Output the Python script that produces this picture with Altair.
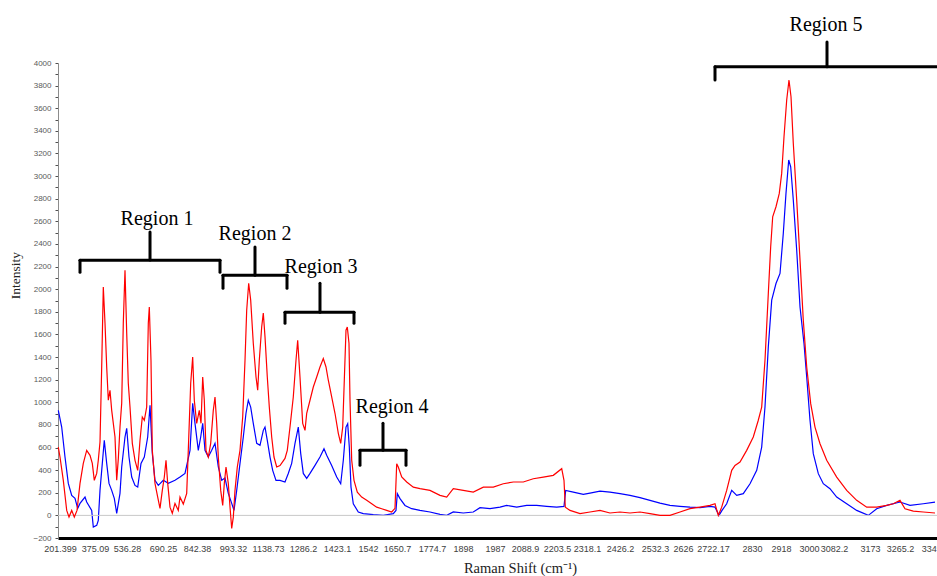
import altair as alt
import pandas as pd

# ---------------- data ----------------
tick_labels = [201.399, 375.09, 536.28, 690.25, 842.38, 993.32, 1138.73, 1286.2, 1423.1,
               1542, 1650.7, 1774.7, 1898, 1987, 2088.9, 2203.5, 2318.1, 2426.2, 2532.3,
               2626, 2722.17, 2830, 2918, 3000, 3082.2, 3173, 3265.2, 3349.2]

red_x = [193.0, 201.4, 217.8, 234.7, 246.1, 259.5, 272.4, 285.8, 300.7, 317.0, 333.9, 350.3,
         361.7, 371.6, 383.7, 391.7, 400.3, 408.8, 416.9, 425.5, 434.0, 442.1, 450.6, 459.2,
         475.8, 484.4, 492.5, 501.0, 509.6, 517.6, 526.2, 534.8, 541.8, 549.1, 559.0, 570.5,
         582.1, 591.9, 601.7, 610.3, 620.5, 627.4, 631.7, 638.9, 644.5, 656.0, 667.6, 677.4,
         687.3, 696.1, 703.7, 711.3, 721.6, 731.9, 743.9, 758.7, 766.3, 781.1, 796.3, 803.4,
         814.2, 823.1, 830.3, 841.0, 852.0, 859.2, 866.3, 873.0, 880.1, 889.8, 899.8, 910.7,
         917.9, 925.0, 931.7, 941.8, 950.2, 956.9, 964.0, 973.6, 980.8, 987.9, 994.6, 1001.6,
         1011.2, 1022.4, 1033.6, 1043.2, 1050.2, 1058.5, 1066.8, 1077.6, 1088.9, 1095.9,
         1102.6, 1112.5, 1119.2, 1126.3, 1135.8, 1144.2, 1154.3, 1164.0, 1175.4, 1189.3,
         1210.3, 1220.0, 1231.4, 1245.3, 1256.7, 1263.8, 1273.5, 1284.9, 1294.3, 1301.1,
         1314.4, 1327.7, 1341.4, 1354.6, 1367.9, 1378.8, 1388.1, 1401.7, 1415.0, 1428.1,
         1437.3, 1445.0, 1451.1, 1457.6, 1462.6, 1469.1, 1473.0, 1479.5, 1488.3, 1501.0,
         1517.8, 1537.0, 1555.9, 1574.6, 1593.3, 1612.1, 1630.8, 1643.2, 1649.6, 1655.3,
         1667.4, 1685.1, 1708.5, 1732.2, 1767.6, 1806.5, 1833.2, 1859.4, 1898.8, 1926.6,
         1954.5, 1982.3, 2015.2, 2049.2, 2083.1, 2118.6, 2154.4, 2190.2, 2221.5, 2230.2,
         2235.2, 2253.2, 2291.4, 2327.9, 2360.7, 2393.4, 2426.2, 2456.5, 2486.8, 2517.1,
         2549.0, 2582.5, 2616.0, 2648.4, 2680.5, 2712.6, 2727.7, 2736.8, 2746.2, 2760.0,
         2773.9, 2783.0, 2796.8, 2815.3, 2833.9, 2849.1, 2859.4, 2869.4, 2879.5, 2886.7,
         2892.8, 2902.8, 2912.8, 2920.0, 2926.8, 2934.7, 2941.4, 2947.3, 2954.0, 2964.0,
         2973.7, 2983.3, 2993.3, 3005.6, 3019.7, 3036.2, 3058.2, 3089.0, 3114.2, 3139.4,
         3164.7, 3193.6, 3224.3, 3244.6, 3265.2, 3277.2, 3297.1, 3321.1, 3349.2]
red_y = [604, 516, 310, 44, -15, 44, -15, 44, 283, 460, 575, 531,
         460, 310, 371, 487, 649, 1312, 2020, 1699, 1312, 1018, 1106, 929,
         693, 310, 500, 781, 991, 1699, 2168, 1611, 1168, 958, 637, 487,
         398, 664, 870, 841, 958, 1699, 1843, 1372, 575, 283, 162, 62,
         221, 339, 487, 283, 73, 18, 106, 44, 162, 100, 195, 575,
         1168, 1401, 1018, 814, 929, 814, 1224, 1018, 575, 516, 637, 929,
         1047, 814, 516, 221, 88, 283, 428, 283, 73, -115, -15, 221,
         428, 575, 870, 1372, 1814, 2053, 1903, 1522, 1224, 1106,
         1372, 1666, 1788, 1578, 1224, 958, 693, 516, 428, 440,
         504, 575, 781, 1047, 1372, 1549, 1224, 814, 752, 903,
         1018, 1135, 1224, 1312, 1386, 1312, 1195, 1047, 903, 726,
         637, 781, 1195, 1637, 1666, 1522, 1018, 487, 310, 206,
         162, 133, 103, 73, 59, 44, 30, 62, 457, 428,
         339, 295, 250, 236, 221, 177, 162, 236, 221, 206,
         250, 250, 280, 295, 295, 324, 339, 354, 413, 310,
         73, 44, 15, 30, 44, 21, 30, 21, 30, 15,
         0, 0, 30, 59, 73, 88, 103, 0, 73, 221,
         398, 442, 472, 575, 693, 841, 958, 1372, 1962, 2375,
         2640, 2729, 2847, 3024, 3348, 3673, 3850, 3702, 3290, 2788,
         2257, 1726, 1312, 988, 781, 634, 487, 339, 221, 133,
         73, 73, 88, 103, 133, 59, 38, 30, 21]

blue_x = [193.0, 209.8, 226.2, 242.6, 259.5, 275.8, 289.2, 300.7, 325.5, 333.9, 358.7, 366.7,
          383.7, 391.7, 400.3, 411.9, 421.9, 434.0, 445.6, 459.2, 472.3, 484.4, 501.0, 509.6,
          526.2, 534.8, 544.8, 556.4, 570.5, 582.1, 596.2, 610.3, 624.8, 634.7, 644.5, 656.0,
          670.2, 691.6, 714.0, 743.9, 766.3, 788.7, 811.1, 823.1, 833.4, 847.8, 857.9, 866.3,
          875.9, 889.8, 904.0, 917.9, 931.7, 946.0, 959.8, 973.6, 987.9, 997.5, 1008.7, 1022.4,
          1036.1, 1047.3, 1056.9, 1066.8, 1077.6, 1091.8, 1105.5, 1119.2, 1126.3, 1135.8,
          1147.2, 1158.5, 1172.4, 1189.3, 1210.3, 1224.2, 1238.5, 1252.5, 1266.4, 1276.5,
          1287.4, 1301.1, 1314.4, 1334.5, 1354.6, 1370.7, 1381.6, 1401.7, 1421.9, 1437.3,
          1447.3, 1457.6, 1464.1, 1470.3, 1476.8, 1485.6, 1504.8, 1524.0, 1561.9, 1599.3,
          1636.8, 1646.9, 1651.8, 1661.3, 1679.0, 1702.8, 1732.2, 1767.6, 1806.5, 1833.2,
          1859.4, 1898.8, 1926.6, 1945.3, 1973.1, 2004.0, 2026.7, 2060.7, 2095.0, 2130.8,
          2166.6, 2202.4, 2230.2, 2236.7, 2265.8, 2304.0, 2327.9, 2360.7, 2393.4, 2426.2,
          2456.5, 2486.8, 2517.1, 2549.0, 2582.5, 2616.0, 2648.4, 2680.5, 2712.6, 2727.7,
          2738.8, 2747.1, 2760.0, 2773.9, 2787.7, 2805.9, 2824.5, 2844.3, 2859.4, 2869.4,
          2879.5, 2889.8, 2902.8, 2915.0, 2924.7, 2932.6, 2940.6, 2946.4, 2954.0, 2964.0,
          2973.7, 2985.4, 2993.3, 3003.3, 3014.1, 3030.6, 3047.0, 3069.0, 3089.0, 3114.2,
          3139.4, 3168.7, 3193.6, 3224.3, 3265.2, 3289.2, 3321.1, 3349.2]
blue_y = [929, 781, 516, 283, 177, 150, 62, 106, 162, 118, 44, -103,
          -88, -44, 221, 460, 664, 460, 283, 221, 150, 18, 195, 428,
          693, 770, 516, 339, 265, 250, 460, 516, 693, 973, 548, 310,
          265, 310, 283, 310, 339, 371, 575, 991, 814, 575, 693, 814,
          575, 516, 575, 637, 428, 310, 330, 195, 106, 44, 221, 460,
          693, 903, 1018, 958, 814, 637, 620, 752, 781, 664,
          516, 398, 310, 310, 295, 371, 460, 637, 781, 548,
          371, 327, 371, 442, 516, 590, 531, 442, 339, 280,
          487, 781, 811, 604, 250, 103, 30, 15, 6, 0,
          15, 44, 192, 148, 88, 59, 44, 30, 9, 0,
          30, 21, 30, 68, 59, 73, 88, 73, 88, 88,
          80, 73, 80, 221, 206, 186, 197, 215, 206, 192,
          177, 157, 133, 109, 88, 80, 73, 68, 80, 73,
          0, 44, 103, 221, 177, 192, 280, 398, 604, 958,
          1490, 1903, 2050, 2139, 2493, 2847, 3142, 3082, 2788, 2345,
          1843, 1519, 1224, 841, 546, 369, 280, 236, 162, 103,
          44, 0, 59, 88, 118, 88, 103, 118]

region_names = ["Region 1", "Region 2", "Region 3", "Region 4", "Region 5"]
region_left = [300.7, 951.4, 1210.4, 1511.3, 2727.7]
region_right = [938.8, 1218.8, 1488.3, 1682.6, 3373.0]
region_bar = [2257, 2124, 1797, 575, 3967]
region_hook = [2150, 2009, 1699, 443, 3850]
region_stem_x = [634.7, 1084.7, 1354.6, 1598.2, 3059.2]
region_stem_top = [2505, 2372, 2053, 814, 4186]
region_text_x = [664.6, 1084.7, 1358.7, 1632.0, 3055.9]
region_text_y = [2567, 2434, 2142, 903, 4283]

# ---------------- layout / scales ----------------
W, H = 879, 475
tick_px = [2, 37, 69, 105, 139, 175, 210, 245, 279, 310, 339, 374, 405, 437, 467, 499,
           529, 562, 597, 625, 655, 694, 723, 751, 776, 812, 842, 877]
x_scale = alt.Scale(domain=[191.5] + tick_labels + [3354.0],
                    range=[0] + tick_px + [W], nice=False, zero=False)
y_scale = alt.Scale(domain=[-200, 4000], nice=False, zero=False)

sans = "Liberation Sans Narrow, Liberation Sans, Arial"
serif = "Liberation Serif, Times New Roman, serif"

x_axis = alt.Axis(values=tick_labels, labelExpr="format(datum.value, '.12~g')",
                  ticks=False, labelFlush=False, labelOverlap=False, grid=False,
                  labelFont=sans, labelFontSize=9, labelColor="#404040", labelPadding=6,
                  domainColor="black", domainWidth=3,
                  title="Raman Shift (cm⁻¹)", titleFont=serif, titleFontSize=14.5,
                  titleFontWeight="normal", titleColor="#222", titleX=462, titleY=34,
                  titleBaseline="alphabetic", titleAlign="center")
y_axis = alt.Axis(values=list(range(-200, 4001, 100)),
                  labelExpr="datum.value % 200 == 0 ? format(datum.value, 'd') : ''",
                  grid=False, tickSize=3, tickColor="#505050", domainColor="#8c8c8c",
                  labelFont=sans, labelFontSize=8, labelColor="#5a5a5a", labelPadding=4,
                  title="Intensity", titleFont=serif, titleFontSize=13.5,
                  titleFontWeight="normal", titleColor="#222", titleAngle=270,
                  titleX=-43, titleY=212, titleAlign="center", titleBaseline="middle")


def X(field):
    return alt.X(field, type="quantitative", scale=x_scale, axis=x_axis)


def Y(field):
    return alt.Y(field, type="quantitative", scale=y_scale, axis=y_axis)


red_df = pd.DataFrame({"shift": red_x, "intensity": red_y})
blue_df = pd.DataFrame({"shift": blue_x, "intensity": blue_y})
reg_df = pd.DataFrame({"name": region_names, "left": region_left, "right": region_right,
                       "bar": region_bar, "hook": region_hook, "sx": region_stem_x,
                       "stop": region_stem_top, "tx": region_text_x, "ty": region_text_y})

blue_line = alt.Chart(blue_df).mark_line(color="#0000FF", strokeWidth=1.2).encode(
    x=X("shift"), y=Y("intensity"))

red_line = alt.Chart(red_df).mark_line(color="#FF0000", strokeWidth=1.2).encode(
    x=X("shift"), y=Y("intensity"))

zero_line = alt.Chart(pd.DataFrame({"z": [0]})).mark_rule(color="#c8c8c8", strokeWidth=1).encode(
    y=Y("z"))

base = alt.Chart(reg_df)
rk = dict(color="black", strokeWidth=3, strokeCap="round")
bar = base.mark_rule(**rk).encode(x=X("left"), x2="right:Q", y=Y("bar"))
hook_l = base.mark_rule(**rk).encode(x=X("left"), y=Y("bar"), y2="hook:Q")
hook_r = base.mark_rule(**rk).encode(x=X("right"), y=Y("bar"), y2="hook:Q")
stem = base.mark_rule(**rk).encode(x=X("sx"), y=Y("stop"), y2="bar:Q")
labels = base.mark_text(font=serif, fontSize=20, color="black", align="center",
                        baseline="alphabetic").encode(
    x=X("tx"), y=Y("ty"), text="name:N")

chart = alt.layer(blue_line, zero_line, red_line, bar, hook_l, hook_r, stem, labels).properties(
    width=W, height=H,
    autosize=alt.AutoSizeParams(type="none"),
    padding={"left": 58, "top": 63, "right": 0, "bottom": 38},
    background="white",
).configure_view(stroke=None)

chart.save("out.html", embed_options={"renderer": "svg", "actions": False})
